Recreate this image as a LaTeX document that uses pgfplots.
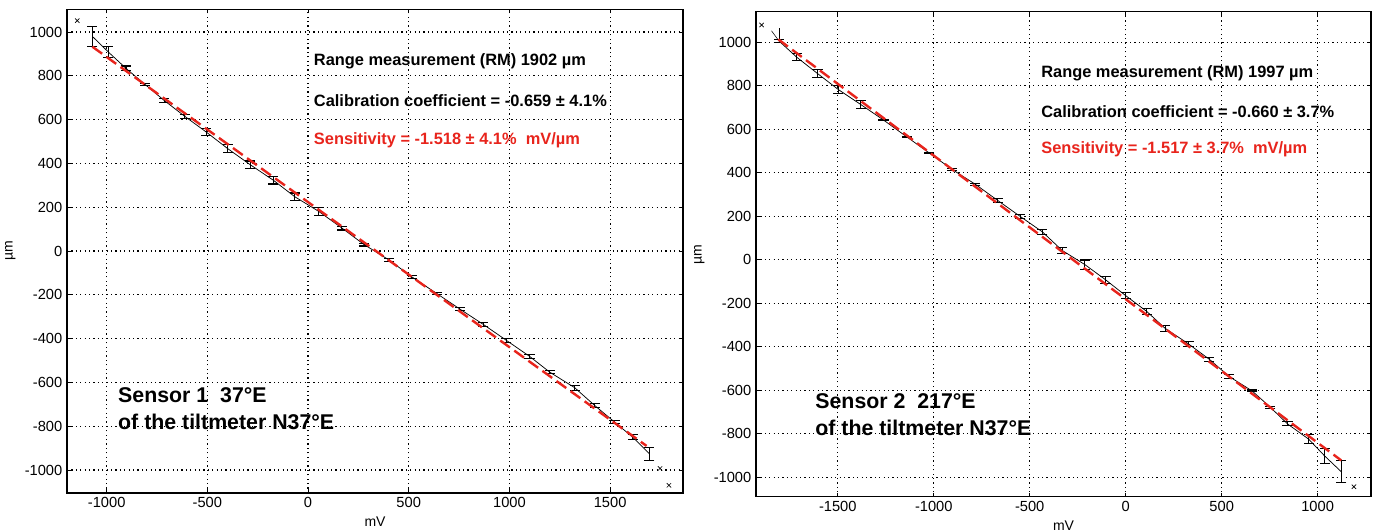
\documentclass[border=0pt]{standalone}
\usepackage{fontspec}
\setmainfont{Liberation Sans}
\usepackage{pgfplots}
\usepackage{pgfplotstable}
\pgfplotsset{compat=1.18}

\definecolor{fitred}{RGB}{232,36,28}

% sensor 1: mV, um, error
\pgfplotstableread{
x y e
-1071 980 47
-992 909 24
-904 834 11
-810 761 6
-715 688 8
-612 615 8
-505 543 15
-398 467 19
-287 394 17
-172 323 17
-66 248 17
53 181 18
168 105 9
279 29 6
404 -42 6
515 -118 6
639 -194 5
754 -265 8
870 -335 10
985 -408 10
1100 -481 10
1200 -553 8
1324 -624 12
1423 -705 10
1522 -781 6
1612 -850 12
1695 -926 30
}\sensorone

% sensor 2: mV, um, error
\pgfplotstableread{
x y e
-1806 1006 8
-1714 932 17
-1606 857 19
-1497 783 19
-1380 714 18
-1262 643 4
-1140 565 3
-1023 491 3
-905 416 5
-783 347 4
-667 273 8
-549 199 10
-435 129 11
-331 43 12
-213 -22 21
-105 -92 15
0 -165 15
110 -238 13
205 -315 13
327 -387 12
436 -458 10
539 -537 10
658 -603 4
753 -678 4
843 -755 9
953 -825 21
1036 -902 35
1123 -975 50
}\sensortwo

\pgfplotsset{
  tiltax/.style={
    scale only axis, anchor=south west,
    axis line style={line width=1.1pt},
    tick align=inside,
    tick style={black, line width=0.6pt},
    major tick length=3pt,
    xmajorgrids, ymajorgrids,
    grid style={black, line width=0.9pt, dash pattern=on 0.9pt off 2.4pt},
    ticklabel style={font=\fontsize{11}{12}\selectfont},
    label style={font=\fontsize{10.5}{12}\selectfont},
    /pgf/number format/assume math mode=true,
    /pgf/number format/1000 sep={},
    scaled ticks=false,
    ytick={-1000,-800,...,1000},
    xlabel={mV}, ylabel={µm},
  },
  data/.style={black, line width=0.55pt, mark=none,
    error bars/.cd, y dir=both, y explicit,
    error bar style={line width=0.8pt},
    error mark options={rotate=90, black, line width=0.8pt, mark size=3.8pt}},
  fit/.style={fitred, line width=1.8pt, dash pattern=on 9pt off 4pt},
}
\tikzset{
  ann/.style={anchor=west, inner sep=0pt, font=\bfseries\fontsize{12.3}{14}\selectfont},
  sensor/.style={anchor=west, inner sep=0pt, align=left, font=\bfseries\fontsize{16}{20}\selectfont},
}

\begin{document}
\begin{tikzpicture}
\path[use as bounding box] (0,0) rectangle (1029.75pt,398.25pt);

\begin{axis}[tiltax, at={(50.25pt,28.5pt)}, width=462pt, height=362.8pt,
  xmin=-1197, xmax=1862, ymin=-1105, ymax=1104,
  xtick={-1000,-500,...,1500}]
\addplot[data] table[x=x, y=y, y error=e] {\sensorone};
\addplot[fit] coordinates {(-1071,933) (1681,-890)};
\addplot[black, only marks, mark=x, mark size=2.3pt, line width=0.5pt]
  coordinates {(-1146,1052) (1748,-993) (1792,-1070)};
\node[ann] at (axis cs:28,868) {Range measurement (RM) 1902 µm};
\node[ann] at (axis cs:28,685) {Calibration coefficient = -0.659 ± 4.1\%};
\node[ann, text=fitred] at (axis cs:28,507) {Sensitivity = -1.518 ± 4.1\%\ \ mV/µm};
\node[sensor] at (axis cs:-944,-720) {Sensor 1\ \ 37°E\\of the tiltmeter N37°E};
\end{axis}

\begin{axis}[tiltax, at={(567pt,25.7pt)}, width=461.25pt, height=363.75pt,
  xmin=-1926, xmax=1278, ymin=-1090, ymax=1141,
  xtick={-1500,-1000,...,1000}]
\addplot[data] table[x=x, y=y, y error=e] {\sensortwo};
\addplot[black, line width=0.4pt] coordinates {(-1845,1053) (-1806,1006)};
\addplot[black, line width=0.5pt] coordinates {(-1806,1064) (-1806,1000)};
\addplot[fit] coordinates {(-1810,1014) (1123,-923)};
\addplot[black, only marks, mark=x, mark size=2.3pt, line width=0.5pt]
  coordinates {(-1897,1080) (1189,-1044)};
\node[ann] at (axis cs:-441,858) {Range measurement (RM) 1997 µm};
\node[ann] at (axis cs:-441,683) {Calibration coefficient = -0.660 ± 3.7\%};
\node[ann, text=fitred] at (axis cs:-441,508) {Sensitivity = -1.517 ± 3.7\%\ \ mV/µm};
\node[sensor] at (axis cs:-1618,-713) {Sensor 2\ \ 217°E\\of the tiltmeter N37°E};
\end{axis}
\end{tikzpicture}
\end{document}
